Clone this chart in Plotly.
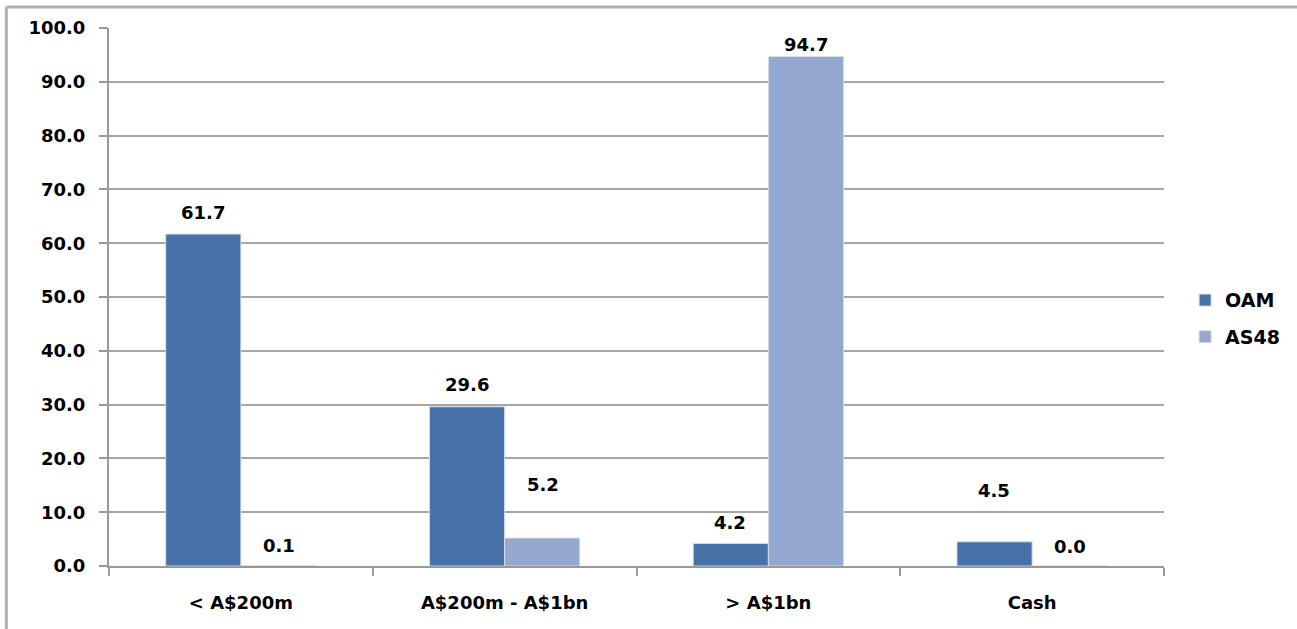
import plotly.graph_objects as go

categories = ["< A$200m", "A$200m - A$1bn", "> A$1bn", "Cash"]
oam = [61.7, 29.6, 4.2, 4.5]
as48 = [0.1, 5.2, 94.7, 0.0]
y_ticks = [0, 10, 20, 30, 40, 50, 60, 70, 80, 90, 100]

# label pixel offsets (style)
oam_label_shift = [22, 22, 21, 51]
as48_label_shift = [20, 54, 12, 20]

OAM_COLOR = "#4672A8"
AS48_COLOR = "#95A9D0"
FONT = "DejaVu Sans"

fig = go.Figure()
fig.add_trace(go.Bar(name="<b>OAM</b>", legend="legend", x=categories, y=oam,
                     marker=dict(color=OAM_COLOR, line=dict(color="#d8dde6", width=1))))
fig.add_trace(go.Bar(name="<b>AS48</b>", legend="legend2", x=categories, y=as48,
                     marker=dict(color=AS48_COLOR, line=dict(color="#d8dde6", width=1))))

annotations = []
for i, c in enumerate(categories):
    annotations.append(dict(x=c, y=oam[i], xref="x", yref="y", text=f"<b>{oam[i]:.1f}</b>",
                            showarrow=False, xshift=-38, yshift=oam_label_shift[i],
                            font=dict(family=FONT, size=18, color="black")))
    annotations.append(dict(x=c, y=as48[i], xref="x", yref="y", text=f"<b>{as48[i]:.1f}</b>",
                            showarrow=False, xshift=38, yshift=as48_label_shift[i],
                            font=dict(family=FONT, size=18, color="black")))

legend_style = dict(xanchor="left", yanchor="middle", x=1.02,
                    font=dict(family=FONT, size=19, color="black"),
                    itemwidth=30, bgcolor="rgba(0,0,0,0)")

fig.update_layout(
    width=1297, height=629,
    margin=dict(l=109, r=129, t=28, b=63),
    paper_bgcolor="white", plot_bgcolor="white",
    barmode="group", bargap=0.43, bargroupgap=0.0,
    font=dict(family=FONT, size=18, color="black"),
    showlegend=True,
    legend=dict(y=0.494, **legend_style),
    legend2=dict(y=0.426, **legend_style),
    annotations=annotations,
    shapes=[
        dict(type="line", xref="paper", yref="paper", x0=-0.0973, x1=1.2, y0=1.039, y1=1.039,
             line=dict(color="#b0b0b0", width=3)),
        dict(type="line", xref="paper", yref="paper", x0=-0.0973, x1=-0.0973, y0=1.039, y1=-0.2,
             line=dict(color="#b0b0b0", width=3)),
    ],
)

fig.update_xaxes(
    showline=True, linecolor="#999999", linewidth=2,
    ticks="outside", ticklen=8, tickcolor="#999999", tickwidth=2,
    tickson="boundaries", ticklabelstandoff=19,
    tickfont=dict(family=FONT, size=18, color="black"),
    tickvals=categories, ticktext=[f"<b>{c}</b>" for c in categories],
)
fig.update_yaxes(
    range=[0, 100], tickvals=y_ticks, ticktext=[f"<b>{v:.1f}</b>" for v in y_ticks],
    showgrid=True, gridcolor="#a6a6a6", gridwidth=2,
    showline=True, linecolor="#999999", linewidth=2,
    ticks="outside", ticklen=8, tickcolor="#999999", tickwidth=2,
    ticklabelstandoff=10,
    tickfont=dict(family=FONT, size=18, color="black"),
    zeroline=False,
)

fig.write_html("out.html", config={"displayModeBar": False},
               post_script="document.body.style.margin='0';document.body.style.overflow='hidden';")
